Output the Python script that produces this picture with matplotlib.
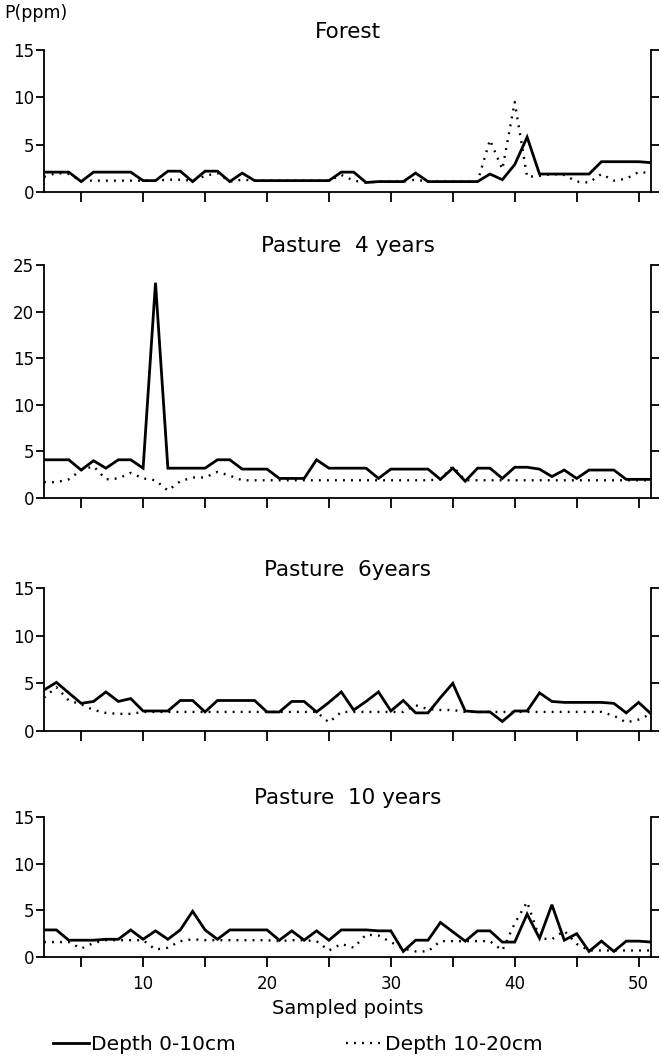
import numpy as np
import matplotlib
matplotlib.use("Agg")
import matplotlib.pyplot as plt

plt.rcParams['font.family'] = ['DejaVu Sans']

# sampled points along the transect
points = list(range(2, 52))

forest_0_10 = [2.1, 2.1, 2.1, 1.1, 2.1, 2.1, 2.1, 2.1, 1.2, 1.2,
               2.2, 2.2, 1.1, 2.2, 2.2, 1.1, 2.0, 1.2, 1.2, 1.2,
               1.2, 1.2, 1.2, 1.2, 2.1, 2.1, 1.0, 1.1, 1.1, 1.1,
               2.0, 1.1, 1.1, 1.1, 1.1, 1.1, 1.9, 1.3, 2.9, 5.8,
               1.9, 1.9, 1.9, 1.9, 1.9, 3.2, 3.2, 3.2, 3.2, 3.1]
forest_10_20 = [1.6, 2.0, 1.9, 1.2, 1.2, 1.2, 1.2, 1.2, 1.2, 1.2,
                1.3, 1.3, 1.2, 1.7, 2.0, 1.1, 1.3, 1.2, 1.2, 1.2,
                1.2, 1.2, 1.2, 1.2, 1.8, 1.2, 1.0, 1.1, 1.1, 1.1,
                1.3, 1.1, 1.1, 1.1, 1.1, 1.1, 5.5, 2.4, 9.5, 1.6,
                1.7, 1.9, 1.8, 1.1, 1.0, 1.9, 1.2, 1.4, 2.1, 2.0]

p4_0_10 = [4.1, 4.1, 4.1, 3.0, 4.0, 3.2, 4.1, 4.1, 3.2, 23.1,
           3.2, 3.2, 3.2, 3.2, 4.1, 4.1, 3.1, 3.1, 3.1, 2.1,
           2.1, 2.1, 4.1, 3.2, 3.2, 3.2, 3.2, 2.1, 3.1, 3.1,
           3.1, 3.1, 2.0, 3.2, 1.8, 3.2, 3.2, 2.1, 3.3, 3.3,
           3.1, 2.3, 3.0, 2.1, 3.0, 3.0, 3.0, 2.0, 2.0, 2.0]
p4_10_20 = [1.7, 1.7, 2.0, 3.0, 3.4, 2.0, 2.1, 2.7, 2.1, 1.9,
            0.8, 1.8, 2.2, 2.2, 2.8, 2.4, 1.9, 1.9, 1.9, 1.9,
            1.9, 1.9, 1.9, 1.9, 1.9, 1.9, 1.9, 1.9, 1.9, 1.9,
            1.9, 1.9, 2.0, 3.4, 1.9, 1.9, 1.9, 1.9, 1.9, 1.9,
            1.9, 1.9, 1.9, 1.9, 1.9, 1.9, 1.9, 1.9, 1.9, 1.9]

p6_0_10 = [4.3, 5.1, 4.0, 2.9, 3.1, 4.1, 3.1, 3.4, 2.1, 2.1,
           2.1, 3.2, 3.2, 2.0, 3.2, 3.2, 3.2, 3.2, 2.0, 2.0,
           3.1, 3.1, 2.0, 3.0, 4.1, 2.2, 3.1, 4.1, 2.1, 3.2,
           1.9, 1.9, 3.5, 5.0, 2.1, 2.0, 2.0, 1.0, 2.1, 2.1,
           4.0, 3.1, 3.0, 3.0, 3.0, 3.0, 2.9, 1.9, 3.0, 1.8]
p6_10_20 = [3.5, 4.6, 3.2, 2.8, 2.2, 1.9, 1.8, 1.8, 2.0, 2.0,
            2.0, 2.0, 2.0, 2.0, 2.0, 2.0, 2.0, 2.0, 2.0, 2.0,
            2.0, 2.0, 2.0, 0.9, 2.0, 2.0, 2.0, 2.0, 2.0, 2.0,
            2.7, 2.3, 2.2, 2.2, 2.0, 2.0, 2.0, 2.0, 2.0, 2.0,
            2.0, 2.0, 2.0, 2.0, 2.0, 2.0, 1.6, 0.9, 1.2, 1.8]

p10_0_10 = [2.9, 2.9, 1.8, 1.8, 1.8, 1.9, 1.9, 2.9, 1.9, 2.8,
            1.9, 2.9, 4.9, 2.9, 1.9, 2.9, 2.9, 2.9, 2.9, 1.8,
            2.8, 1.8, 2.8, 1.8, 2.9, 2.9, 2.9, 2.8, 2.8, 0.6,
            1.8, 1.8, 3.7, 2.7, 1.7, 2.8, 2.8, 1.6, 1.6, 4.6,
            2.0, 5.6, 1.8, 2.5, 0.6, 1.7, 0.6, 1.7, 1.7, 1.6]
p10_10_20 = [1.6, 1.6, 1.6, 0.9, 1.5, 1.8, 1.8, 1.8, 1.8, 0.8,
             1.0, 1.7, 1.9, 1.8, 1.8, 1.8, 1.8, 1.8, 1.8, 1.7,
             1.8, 1.8, 1.7, 0.7, 1.4, 1.0, 2.4, 2.3, 1.6, 0.9,
             0.6, 0.6, 1.7, 1.7, 1.7, 1.7, 1.7, 0.7, 3.6, 5.9,
             2.0, 1.9, 2.8, 1.4, 0.7, 0.7, 0.7, 0.7, 0.7, 0.7]

titles = ["Forest", "Pasture  4 years", "Pasture  6years", "Pasture  10 years"]
ymax = [15, 25, 15, 15]
shallow = [forest_0_10, p4_0_10, p6_0_10, p10_0_10]
deep = [forest_10_20, p4_10_20, p6_10_20, p10_10_20]

dots = (0, (0.8, 2.6))

fig = plt.figure(figsize=(6.61, 10.59), dpi=100)
H = 1059.0
# (top, bottom) of each panel in pixels
boxes = [(50, 192), (265, 498), (588, 731), (817, 957)]
left = 44 / 661.0
width = (651 - 44) / 661.0

for i in range(4):
    top, bot = boxes[i]
    ax = fig.add_axes([left, 1 - bot / H, width, (bot - top) / H])
    ax.plot(points, shallow[i], color='black', lw=2.0, solid_joinstyle='miter')
    ax.plot(points, deep[i], color='black', lw=1.7, linestyle=dots)
    ax.set_xlim(2, 51)
    ax.set_ylim(0, ymax[i])
    ax.set_yticks(range(0, ymax[i] + 1, 5))
    ax.set_xticks(range(5, 51, 5))
    ax.spines['top'].set_visible(False)
    for s in ['left', 'right', 'bottom']:
        ax.spines[s].set_linewidth(1.3)
    ax.tick_params(axis='y', direction='out', length=6, width=1.3, right=True,
                   labelright=False, labelsize=12, pad=1)
    ax.tick_params(axis='x', direction='out', length=7, width=1.3, labelsize=12, pad=6)
    ax.set_title(titles[i], fontsize=15.5, pad=9)
    if i < 3:
        ax.set_xticklabels([])
    else:
        ax.set_xticklabels(['' if v % 10 else str(v) for v in range(5, 51, 5)])
        ax.set_xlabel("Sampled points", fontsize=14, labelpad=4)
    if i == 0:
        ax.text(-0.065, 1.2, "P(ppm)", transform=ax.transAxes, fontsize=12.5, ha='left', va='bottom')
    if i == 3:
        l1, = ax.plot([], [], color='black', lw=2.0, label='Depth 0-10cm')
        l2, = ax.plot([], [], color='black', lw=1.7, linestyle=dots, label='Depth 10-20cm')

fig.legend(handles=[l1, l2], loc='lower center', bbox_to_anchor=(0.45, -0.012), ncol=2,
           frameon=False, fontsize=14.5, handlelength=1.8, handletextpad=0.1, columnspacing=5.5)

fig.savefig("out.png", dpi=100)
